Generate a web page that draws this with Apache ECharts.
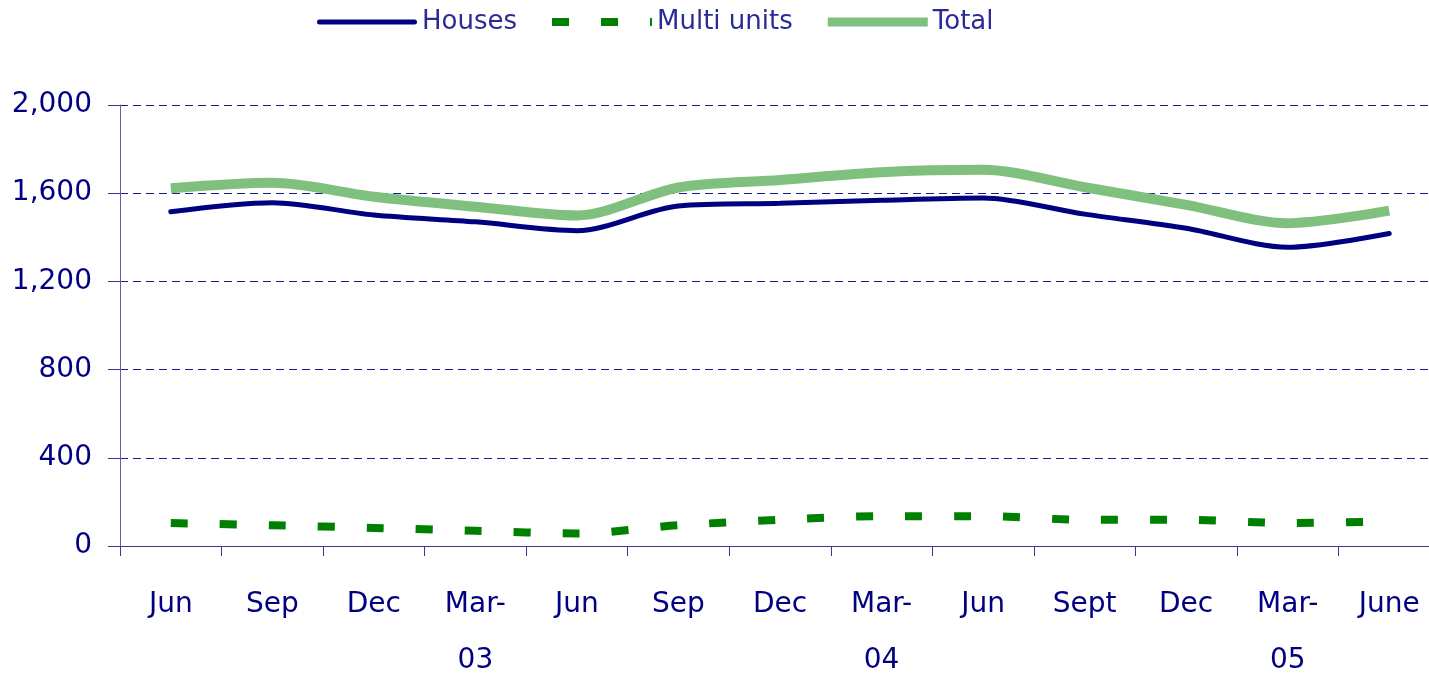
<!DOCTYPE html>
<html>
<head>
<meta charset="utf-8">
<script src="https://cdn.jsdelivr.net/npm/echarts@6/dist/echarts.min.js"></script>
<style>
html,body{margin:0;padding:0;background:#fff;}
#chart{width:1429px;height:675px;}
</style>
</head>
<body>
<div id="chart"></div>
<script>
const categories = ['Jun','Sep','Dec','Mar-\n03','Jun','Sep','Dec','Mar-\n04','Jun','Sept','Dec','Mar-\n05','June'];
const houses = [1516,1557,1501,1470,1430,1542,1554,1568,1578,1505,1441,1355,1417];
const multiUnits = [104,94,82,69,57,94,119,135,135,119,119,104,112];
const total = [1622,1647,1584,1539,1499,1626,1660,1695,1706,1627,1547,1464,1521];
const yTicks = {min:0, max:2000, interval:400};

const navy = '#000080';
const pins = 'M0,0h0.01v0.01h-0.01Z M99.99,9.99h0.01v0.01h-0.01Z ';
const iconHouses = 'path://' + pins + 'M2.5,2.5H97.5A2.5,2.5,0,0,1,97.5,7.5H2.5A2.5,2.5,0,0,1,2.5,2.5Z';
const iconMulti = 'path://' + pins + 'M0,1H17V9H0Z M49,1H66V9H49Z M98,1H100V9H98Z';
const iconTotal = 'path://' + pins + 'M0,0.5H100V9.5H0Z';

const chart = echarts.init(document.getElementById('chart'));
chart.setOption({
  animation:false,
  backgroundColor:'#ffffff',
  textStyle:{fontFamily:'DejaVu Sans'},
  legend:{
    top:4, left:312,
    itemWidth:100, itemHeight:10, itemGap:35,
    symbolKeepAspect:false,
    textStyle:{color:'#2b2b96', fontSize:26, fontFamily:'DejaVu Sans', padding:[0,0,0,0]},
    data:[
      {name:'Houses', icon:iconHouses},
      {name:'Multi units', icon:iconMulti},
      {name:'Total', icon:iconTotal}
    ]
  },
  grid:{left:120, right:-11, top:105, bottom:129, containLabel:false, outerBoundsMode:'none'},
  xAxis:{
    type:'category',
    data:categories,
    boundaryGap:true,
    axisLine:{lineStyle:{color:'#3a3a90', width:1}},
    axisTick:{show:true, length:10, inside:false, lineStyle:{color:'#3a3a90'}},
    axisLabel:{color:navy, fontSize:28, fontFamily:'DejaVu Sans', lineHeight:56, margin:31, interval:0}
  },
  yAxis:{
    type:'value',
    min:yTicks.min, max:yTicks.max, interval:yTicks.interval,
    axisLine:{show:true, lineStyle:{color:'#6060aa', width:1}},
    axisTick:{show:true, length:12, lineStyle:{color:'#3a3a90'}},
    axisLabel:{color:navy, fontSize:28, fontFamily:'DejaVu Sans', margin:28,
      formatter:function(v){return v.toLocaleString('en-US');}},
    splitLine:{show:true, lineStyle:{color:'#1a1a90', width:1, type:[8,5]}}
  },
  series:[
    {name:'Houses', type:'line', data:houses, smooth:0.3, symbol:'none',
      lineStyle:{color:navy, width:5, cap:'round'}, itemStyle:{color:navy}},
    {name:'Multi units', type:'line', data:multiUnits, smooth:0.3, symbol:'none',
      lineStyle:{color:'#008000', width:8, type:[17,32], cap:'butt'}, itemStyle:{color:'#008000'}},
    {name:'Total', type:'line', data:total, smooth:0.3, symbol:'none',
      lineStyle:{color:'#7fc07f', width:10, cap:'butt'}, itemStyle:{color:'#7fc07f'}}
  ]
});
</script>
</body>
</html>
